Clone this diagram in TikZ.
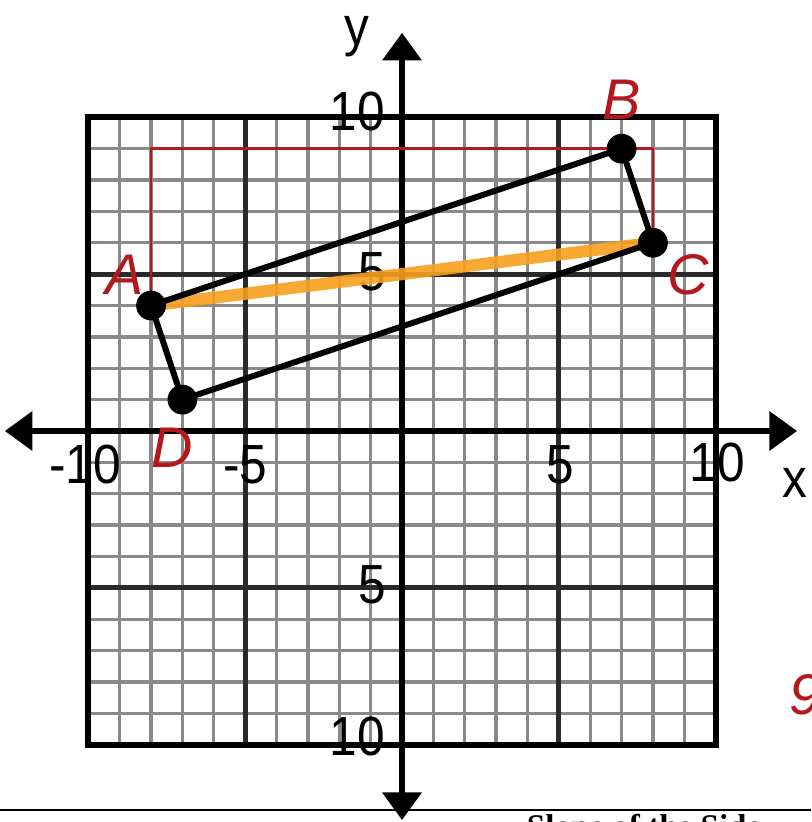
\documentclass[tikz,border=0pt]{standalone}
\usepackage{fontspec}
\setmainfont{Liberation Sans}
\newfontfamily\lab[FakeStretch=0.9]{Liberation Sans}
\newfontfamily\hand{Liberation Sans}
\newfontfamily\bser{Liberation Serif}
\usetikzlibrary{arrows.meta}
\definecolor{gridgray}{HTML}{8A8A8A}
\definecolor{majorgray}{HTML}{2A2A2A}
\definecolor{penred}{HTML}{B3191C}
\definecolor{hilite}{HTML}{F7A01E}
\tikzset{
  minor/.style={gridgray, line width=1.5pt},
  major/.style={majorgray, line width=2.3pt},
  border/.style={black, line width=2.8pt},
  axis/.style={black, line width=2.3pt, -{Triangle[length=12.5pt,width=17.5pt]}},
  tick/.style={font=\lab\fontsize{25}{25}\selectfont, inner sep=0pt},
  handlab/.style={font=\hand\fontsize{26}{26}\selectfont\itshape, text=penred, inner sep=0pt},
  dot/.style={circle, fill=black, minimum size=13.5pt, inner sep=0pt},
  side/.style={black, line width=2.7pt, line join=round},
  redpen/.style={penred, line width=1.1pt, line join=round},
  marker/.style={hilite, line width=5.5pt, line cap=round, opacity=0.9}
}
\begin{document}
\begin{tikzpicture}[x=0.5cm,y=0.5cm]
\useasboundingbox[fill=white] (-12.815,-12.464) rectangle (13.038,13.739);
% grid
\foreach \i in {-9,...,9}{
  \draw[minor] (\i,-10) -- (\i,10);
  \draw[minor] (-10,\i) -- (10,\i);
}
\foreach \i in {-5,5}{
  \draw[major] (\i,-10) -- (\i,10);
  \draw[major] (-10,\i) -- (10,\i);
}
\draw[border] (-10,-10) rectangle (10,10);
% axes
\coordinate (xl) at (-12.66,0);
\coordinate (xr) at (12.59,0);
\coordinate (yt) at (0,12.69);
\coordinate (yb) at (0,-12.40);
\coordinate (o) at (0,0);
\draw[axis] (o) -- (xr);
\draw[axis] (o) -- (xl);
\draw[axis] (o) -- (yt);
\draw[axis] (o) -- (yb);
% tick labels
\node[tick] (t1) at (-10.1,-1.08) {-10};
\node[tick] (t2) at (-5.0,-1.08) {-5};
\node[tick] (t3) at (5.04,-1.08) {5};
\node[tick] (t4) at (10.05,-1.02) {10};
\node[tick] (t5) at (-1.43,10.17) {10};
\node[tick] (t6) at (-0.96,5.07) {5};
\node[tick] (t7) at (-0.96,-4.91) {5};
\node[tick] (t8) at (-1.43,-9.75) {10};
\node[tick] (xlab) at (12.53,-1.66) {x};
\node[tick] (ylab) at (-1.45,12.56) {y};
% points
\coordinate (A) at (-8,4);
\coordinate (B) at (7,9);
\coordinate (C) at (8,6);
\coordinate (D) at (-7,1);
\coordinate (AT) at (-8,9);
\coordinate (CT) at (8,9);
% red helper path
\draw[redpen] (A) -- (AT) -- (CT) -- (C);
% orange diagonal
\draw[marker] (A) -- (C);
% sides
\draw[side] (A) -- (B) -- (C) -- (D) -- cycle;
\node[dot] (nA) at (A) {};
\node[dot] (nB) at (B) {};
\node[dot] (nC) at (C) {};
\node[dot] (nD) at (D) {};
% handwritten labels
\node[handlab] (lA) at (-8.83,4.97) {A};
\node[handlab] (lB) at (7.01,10.55) {B};
\node[handlab] (lC) at (9.12,4.97) {C};
\node[handlab] (lD) at (-7.33,-0.55) {D};
\node[handlab, anchor=west] (l90) at (12.35,-8.42) {90};
% bottom rule and text
\coordinate (rl) at (-12.815,-12.08);
\coordinate (rr) at (13.038,-12.08);
\draw[black, line width=0.9pt] (rl) -- (rr);
\node[font=\bser\bfseries\fontsize{15}{15}\selectfont, anchor=base west, inner sep=0pt] (bt) at (3.97,-12.95) {Slope of the Side};
\end{tikzpicture}
\end{document}
